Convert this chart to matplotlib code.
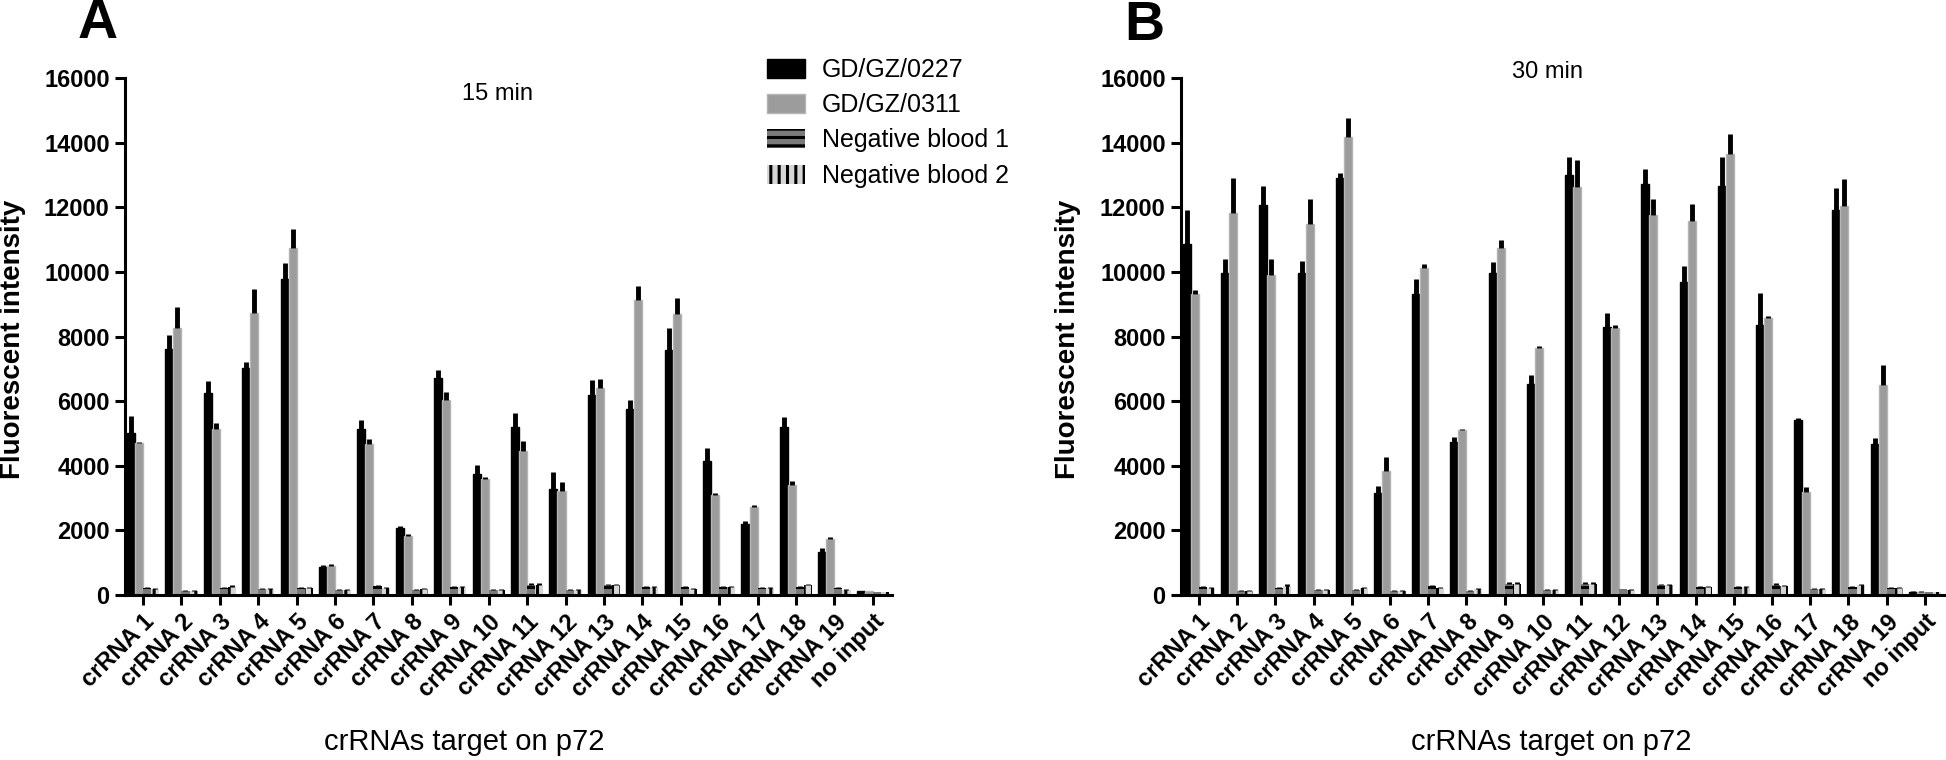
import numpy as np
import matplotlib
matplotlib.use("Agg")
import matplotlib.pyplot as plt
from matplotlib.patches import Patch

plt.rcParams["font.family"] = ["Liberation Sans", "DejaVu Sans"]
plt.rcParams["hatch.linewidth"] = 2.2

# ==============================
# data
# ==============================
categories = ["crRNA 1", "crRNA 2", "crRNA 3", "crRNA 4", "crRNA 5", "crRNA 6",
              "crRNA 7", "crRNA 8", "crRNA 9", "crRNA 10", "crRNA 11", "crRNA 12",
              "crRNA 13", "crRNA 14", "crRNA 15", "crRNA 16", "crRNA 17", "crRNA 18",
              "crRNA 19", "no input"]
series_names = ["GD/GZ/0227", "GD/GZ/0311", "Negative blood 1", "Negative blood 2"]

# 15 min
a_0227 = [5010, 7600, 6240, 7030, 9770, 870, 5150, 2060, 6720, 3750,
          5190, 3280, 6200, 5760, 7580, 4160, 2210, 5210, 1320, 110]
a_0227_err = [530, 450, 370, 190, 520, 60, 260, 90, 240, 270,
              430, 530, 440, 280, 670, 390, 70, 300, 140, 20]
a_0311 = [4690, 8270, 5150, 8720, 10730, 905, 4680, 1820, 6020, 3590,
          4460, 3220, 6420, 9130, 8690, 3110, 2730, 3390, 1730, 110]
a_0311_err = [40, 640, 170, 760, 610, 65, 150, 70, 260, 70,
              310, 280, 280, 440, 490, 60, 50, 130, 80, 20]
a_neg1 = [227, 134, 206, 186, 206, 155, 278, 155, 237, 155,
          320, 155, 300, 258, 258, 258, 206, 258, 206, 90]
a_neg1_err = [30, 20, 30, 20, 30, 20, 30, 20, 30, 20,
              40, 20, 30, 30, 30, 30, 30, 30, 30, 15]
a_neg2 = [175, 134, 258, 186, 206, 155, 206, 175, 237, 155,
          320, 155, 300, 258, 186, 258, 206, 310, 155, 90]
a_neg2_err = [30, 20, 40, 20, 30, 20, 30, 30, 30, 20,
              40, 20, 30, 30, 30, 30, 30, 40, 30, 15]

# 30 min
b_0227 = [10870, 9960, 12080, 9960, 12900, 3170, 9330, 4740, 9960, 6530,
          13010, 8300, 12720, 9680, 12660, 8360, 5430, 11910, 4660, 100]
b_0227_err = [1040, 440, 580, 380, 150, 200, 440, 140, 350, 280,
              530, 440, 470, 500, 900, 990, 60, 690, 190, 20]
b_0311 = [9330, 11810, 9900, 11480, 14170, 3830, 10120, 5100, 10730, 7640,
          12640, 8270, 11750, 11560, 13650, 8580, 3190, 12050, 6500, 100]
b_0311_err = [110, 1100, 500, 760, 590, 440, 110, 50, 270, 80,
              810, 90, 490, 550, 630, 50, 140, 830, 620, 20]
b_neg1 = [243, 132, 220, 165, 165, 132, 276, 132, 353, 155,
          353, 188, 300, 243, 243, 320, 188, 243, 210, 90]
b_neg1_err = [50, 20, 40, 20, 20, 20, 30, 20, 40, 20,
              40, 0, 40, 30, 30, 40, 30, 30, 30, 15]
b_neg2 = [210, 132, 276, 165, 220, 132, 210, 188, 353, 155,
          353, 150, 300, 243, 243, 276, 188, 300, 210, 90]
b_neg2_err = [40, 20, 50, 20, 40, 20, 30, 40, 40, 20,
              40, 40, 40, 30, 30, 40, 30, 40, 30, 15]

# ==============================
# style
# ==============================
bar_w = 0.21
offsets = [-1.5 * bar_w, -0.5 * bar_w, 0.5 * bar_w, 1.5 * bar_w]
fills = ["black", "#9c9c9c", "#7a7a7a", "#d6d6d6"]
edges = ["black", "#b4b4b4", "black", "black"]
edge_lw = [1.0, 1.0, 0, 0]
hatches = [None, None, "--", "||"]

W, H = 1946, 760
fig = plt.figure(figsize=(W / 100, H / 100), dpi=100)


def fx(px):
    return px / W


def fy(py):
    return 1 - py / H


def draw_panel(ax, series, errs):
    x = np.arange(len(categories))
    for k in range(4):
        ax.bar(x + offsets[k], series[k], width=bar_w, color=fills[k],
               edgecolor=edges[k], linewidth=edge_lw[k], hatch=hatches[k], zorder=2)
        ax.errorbar(x + offsets[k], series[k],
                    yerr=[np.zeros(len(x)), errs[k]], fmt="none",
                    ecolor="black", elinewidth=3.5, capsize=0, zorder=3)
    ax.set_xlim(-0.47, 19.5)
    ax.set_ylim(0, 16000)
    ax.set_yticks(np.arange(0, 16001, 2000))
    ax.set_xticks(x)
    ax.set_xticklabels(categories, rotation=45, ha="right",
                       rotation_mode="anchor", fontsize=17, fontweight="bold")
    for lab in ax.get_yticklabels():
        lab.set_fontsize(17)
        lab.set_fontweight("bold")
    for s in ["top", "right"]:
        ax.spines[s].set_visible(False)
    for s in ["left", "bottom"]:
        ax.spines[s].set_linewidth(2.2)
    ax.tick_params(axis="both", width=2.2, length=7, direction="out", pad=4)


axA = fig.add_axes([fx(125), fy(595), fx(767), (595 - 78) / H])
draw_panel(axA, [a_0227, a_0311, a_neg1, a_neg2],
           [a_0227_err, a_0311_err, a_neg1_err, a_neg2_err])

axB = fig.add_axes([fx(1181), fy(595), fx(763), (595 - 78) / H])
draw_panel(axB, [b_0227, b_0311, b_neg1, b_neg2],
           [b_0227_err, b_0311_err, b_neg1_err, b_neg2_err])

# panel letters, titles, axis labels
fig.text(fx(98), fy(24), "A", ha="center", va="center", fontsize=40, fontweight="bold")
fig.text(fx(1144), fy(26), "B", ha="center", va="center", fontsize=40, fontweight="bold")
fig.text(fx(497), fy(94), "15 min", ha="center", va="center", fontsize=17)
fig.text(fx(1548), fy(72), "30 min", ha="center", va="center", fontsize=17)
for xc in [464, 1551]:
    fig.text(fx(xc), fy(742), "crRNAs target on p72", ha="center", va="center", fontsize=21)
for xc in [13, 1068]:
    fig.text(fx(xc), fy(339), "Fluorescent intensity", ha="center", va="center",
             rotation=90, fontsize=20, fontweight="bold")

# legend
handles = [Patch(facecolor=fills[k], edgecolor=edges[k], hatch=hatches[k],
                 linewidth=edge_lw[k])
           for k in range(4)]
fig.legend(handles, series_names, loc="upper left",
           bbox_to_anchor=(fx(767), fy(58)), frameon=False, fontsize=18,
           handlelength=1.5, handleheight=0.8, labelspacing=0.45,
           handletextpad=0.7, borderpad=0, borderaxespad=0)

fig.savefig("out.png", dpi=100)
